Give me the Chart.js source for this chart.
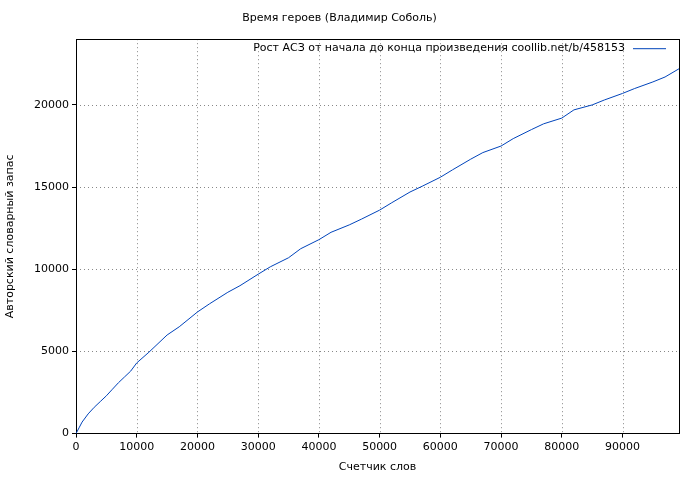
<!DOCTYPE html>
<html><head><meta charset="utf-8">
<script src="https://cdn.jsdelivr.net/npm/chart.js@4/dist/chart.umd.min.js"></script>
<style>html,body{margin:0;padding:0;background:#fff}#w{width:700px;height:480px}</style>
</head><body><div id="w"><canvas id="c"></canvas></div>
<script>
const words = [0,500,1000,2000,3000,4000,5000,6000,7000,8000,9000,10000,12000,15000,17000,20000,22000,25000,27000,30000,32000,35000,37000,40000,42000,45000,47000,50000,52000,55000,57000,60000,62000,65000,67000,70000,72000,75000,77000,80000,82000,85000,87000,90000,92000,95000,97000,99300];
const vocab = [0,350,700,1200,1600,1950,2300,2700,3100,3450,3800,4300,4950,6000,6500,7400,7900,8600,9000,9700,10150,10700,11250,11800,12250,12700,13050,13600,14050,14700,15050,15600,16050,16700,17100,17500,17950,18500,18850,19200,19700,20000,20300,20700,21000,21400,21700,22200];
const xTicks = [0,10000,20000,30000,40000,50000,60000,70000,80000,90000];
const yTicks = [0,5000,10000,15000,20000];
const title = 'Время героев (Владимир Соболь)';
const seriesLabel = 'Рост АСЗ от начала до конца произведения coollib.net/b/458153';
const F = 'DejaVu Sans';
const gridPlugin = {id:'grid', beforeDatasetsDraw(ch){
  const c=ch.ctx,a=ch.chartArea,xs=ch.scales.x,ys=ch.scales.y; c.save();
  c.strokeStyle='#888'; c.lineWidth=1; c.setLineDash([1,3]);
  xTicks.forEach(v=>{if(!v)return;const p=Math.round(xs.getPixelForValue(v))+0.5;c.beginPath();c.moveTo(p,a.top);c.lineTo(p,a.bottom);c.stroke();});
  yTicks.forEach(v=>{if(!v)return;const p=Math.round(ys.getPixelForValue(v))+0.5;c.beginPath();c.moveTo(a.left,p);c.lineTo(a.right,p);c.stroke();});
  c.setLineDash([]); c.strokeStyle='#000';
  c.strokeRect(Math.round(a.left)+0.5,Math.round(a.top)+0.5,Math.round(a.right-a.left),Math.round(a.bottom-a.top));
  c.restore();},
 afterDraw(ch){
  const c=ch.ctx,a=ch.chartArea; c.save();
  c.font='11px "'+F+'"'; c.fillStyle='#000'; c.textAlign='right'; c.textBaseline='middle';
  c.fillText(seriesLabel,a.right-54,a.top+9);
  c.strokeStyle='#0044bb'; c.lineWidth=1; c.beginPath(); c.moveTo(a.right-46,a.top+9.5); c.lineTo(a.right-13,a.top+9.5); c.stroke();
  c.restore();}};
new Chart(document.getElementById('c'),{type:'line',
 data:{datasets:[{data:words.map((x,i)=>({x,y:vocab[i]})),borderColor:'#0044bb',borderWidth:1,pointRadius:0,tension:0}]},
 options:{responsive:true,maintainAspectRatio:false,animation:false,
  layout:{padding:{top:0,right:21,left:0,bottom:2}},
  plugins:{legend:{display:false},tooltip:{enabled:false},
   title:{display:true,text:title,font:{family:F,size:11,weight:'normal'},color:'#000',padding:{top:12,bottom:14}}},
  scales:{
   x:{type:'linear',min:0,max:99300,afterBuildTicks:s=>{s.ticks=xTicks.map(v=>({value:v}))},
      ticks:{font:{family:F,size:11},color:'#000',maxRotation:0,callback:v=>String(v)},
      grid:{drawOnChartArea:false,tickLength:4,tickColor:'#000'},border:{display:false},
      title:{display:true,text:'Счетчик слов',font:{family:F,size:11},color:'#000'}},
   y:{min:0,max:24000,afterBuildTicks:s=>{s.ticks=yTicks.map(v=>({value:v}))},
      ticks:{font:{family:F,size:11},color:'#000',callback:v=>String(v)},
      grid:{drawOnChartArea:false,tickLength:4,tickColor:'#000'},border:{display:false},
      afterFit:s=>{s.width=76;},
      title:{display:true,text:'Авторский словарный запас',font:{family:F,size:11},color:'#000'}}}},
 plugins:[gridPlugin]});
</script>
</body></html>
